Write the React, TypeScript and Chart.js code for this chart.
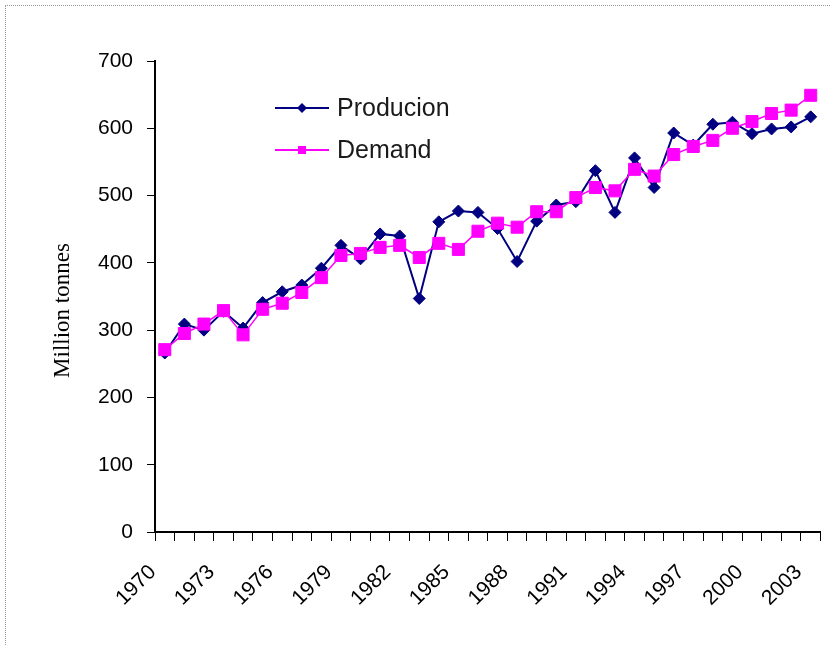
import React, { useEffect, useRef } from "react";
import { Chart, registerables } from "chart.js";

Chart.register(...registerables);

// Years on the category axis
const years = [
  "1970", "1971", "1972", "1973", "1974", "1975", "1976", "1977", "1978", "1979",
  "1980", "1981", "1982", "1983", "1984", "1985", "1986", "1987", "1988", "1989",
  "1990", "1991", "1992", "1993", "1994", "1995", "1996", "1997", "1998", "1999",
  "2000", "2001", "2002", "2003",
];

// Million tonnes
const production = [
  266, 309, 300, 328, 303, 341, 357, 367, 392, 426,
  406, 443, 440, 347, 461, 477, 475, 451, 402, 462,
  486, 491, 537, 475, 556, 512, 593, 575, 606, 609,
  592, 599, 602, 617,
];

const demand = [
  271, 295, 309, 329, 293, 331, 340, 356, 378, 411,
  414, 423, 426, 408, 429, 420, 447, 459, 453, 476,
  476, 497, 512, 507, 539, 529, 561, 573, 582, 600,
  610, 622, 627, 649,
];

const yMin = 0;
const yMax = 700;
const yStep = 100;
const labelEvery = 3;

const seriesNames = ["Producion", "Demand"];
const yTitle = "Million tonnes";

const NAVY = "#000080";
const MAGENTA = "#FF00FF";

// Legend drawn inside the plot area, plus the rotated axis title
const overlayPlugin = {
  id: "overlay",
  afterDraw(chart: any) {
    const ctx = chart.ctx as CanvasRenderingContext2D;
    const { left, top, bottom } = chart.chartArea;
    ctx.save();

    // y axis title
    ctx.fillStyle = "#000";
    ctx.font = '23px "Liberation Serif", "Times New Roman", serif';
    ctx.textAlign = "center";
    ctx.textBaseline = "middle";
    ctx.translate(63, (top + bottom) / 2 + 14);
    ctx.rotate(-Math.PI / 2);
    ctx.fillText(yTitle, 0, 0);
    ctx.setTransform(1, 0, 0, 1, 0, 0);

    // legend
    const x0 = left + 120;
    const lineLen = 54;
    chart.data.datasets.forEach((ds: any, i: number) => {
      const y = top + 47 + i * 42;
      ctx.strokeStyle = ds.borderColor;
      ctx.lineWidth = 2;
      ctx.beginPath();
      ctx.moveTo(x0, y);
      ctx.lineTo(x0 + lineLen, y);
      ctx.stroke();
      const cx = x0 + lineLen / 2;
      ctx.fillStyle = ds.borderColor;
      ctx.beginPath();
      if (ds.pointStyle === "rectRot") {
        const r = 5;
        ctx.moveTo(cx, y - r);
        ctx.lineTo(cx + r, y);
        ctx.lineTo(cx, y + r);
        ctx.lineTo(cx - r, y);
        ctx.closePath();
      } else {
        const h = 4;
        ctx.rect(cx - h, y - h, 2 * h, 2 * h);
      }
      ctx.fill();
      ctx.fillStyle = "#1a1a1a";
      ctx.font = '25px "Liberation Sans", Arial, sans-serif';
      ctx.textAlign = "left";
      ctx.textBaseline = "middle";
      ctx.fillText(ds.label, x0 + lineLen + 8, y + 1);
    });
    ctx.restore();
  },
};

export default function App() {
  const canvasRef = useRef<HTMLCanvasElement | null>(null);

  useEffect(() => {
    const canvas = canvasRef.current;
    if (!canvas) return;
    const tickFont = { family: '"Liberation Sans", Arial, sans-serif', size: 21 };
    const chart = new Chart(canvas, {
      type: "line",
      data: {
        labels: years,
        datasets: [
          {
            label: seriesNames[0],
            data: production,
            borderColor: NAVY,
            backgroundColor: NAVY,
            borderWidth: 2,
            pointStyle: "rectRot",
            pointRadius: 6,
            pointBorderWidth: 1,
            tension: 0,
            order: 1,
          },
          {
            label: seriesNames[1],
            data: demand,
            borderColor: MAGENTA,
            backgroundColor: MAGENTA,
            borderWidth: 1.5,
            pointStyle: "rect",
            pointRadius: 8.5,
            pointBorderWidth: 1,
            tension: 0,
            order: 0,
          },
        ],
      },
      options: {
        responsive: false,
        animation: false,
        devicePixelRatio: 1,
        layout: { padding: { left: 0, right: 5, top: 61, bottom: 0 } },
        plugins: {
          legend: { display: false },
          tooltip: { enabled: false },
        },
        scales: {
          x: {
            type: "category",
            offset: true,
            grid: {
              offset: true,
              drawOnChartArea: false,
              drawTicks: true,
              tickLength: 9,
              color: "#000",
              lineWidth: 1,
            },
            border: { display: true, color: "#000", width: 2 },
            ticks: {
              autoSkip: false,
              maxRotation: 45,
              minRotation: 45,
              padding: 19,
              labelOffset: -12,
              color: "#000",
              font: tickFont,
              callback: (_v: any, i: number) => (i % labelEvery === 0 ? years[i] : ""),
            },
            afterFit: (scale: any) => {
              scale.height = 113;
              scale.paddingLeft = 0;
              scale.paddingRight = 0;
            },
          },
          y: {
            min: yMin,
            max: yMax,
            grid: {
              drawOnChartArea: false,
              drawTicks: true,
              tickLength: 8,
              color: "#000",
              lineWidth: 1,
            },
            border: { display: true, color: "#000", width: 2 },
            ticks: {
              stepSize: yStep,
              padding: 14,
              color: "#000",
              font: tickFont,
            },
            afterFit: (scale: any) => {
              scale.width = 155;
              scale.paddingTop = 0;
              scale.paddingBottom = 0;
            },
          },
        },
      },
      plugins: [overlayPlugin],
    });
    return () => chart.destroy();
  }, []);

  return (
    <div
      style={{
        position: "absolute",
        left: 0,
        top: 0,
        width: 830,
        height: 645,
        background: "#fff",
        overflow: "hidden",
      }}
    >
      <canvas
        ref={canvasRef}
        width={830}
        height={645}
        style={{ position: "absolute", left: 0, top: 0, width: 830, height: 645 }}
      />
      <div
        style={{
          position: "absolute",
          left: 5,
          top: 5,
          width: 830,
          height: 645,
          borderTop: "1px dotted #999",
          borderLeft: "1px dotted #999",
          pointerEvents: "none",
        }}
      />
    </div>
  );
}
